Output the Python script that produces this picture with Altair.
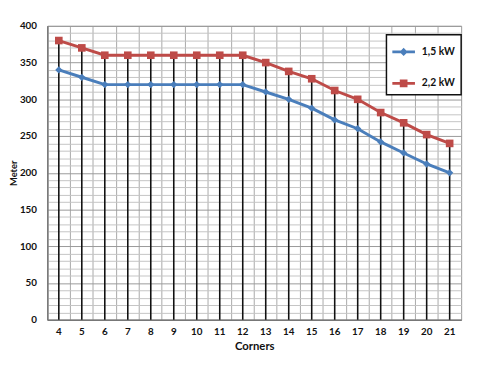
import altair as alt
import pandas as pd

corners = [str(c) for c in range(4, 22)]
kw15 = [340, 330, 320, 320, 320, 320, 320, 320, 320, 310, 300, 288, 272, 260, 242, 227, 212, 200]
kw22 = [380, 370, 360, 360, 360, 360, 360, 360, 360, 350, 338, 328, 312, 300, 282, 268, 252, 240]
series = ["1,5 kW", "2,2 kW"]
colors = ["#4A7EBB", "#BE4B48"]
shapes = ["diamond", "square"]
sizes = [55, 60]
yticks = list(range(0, 401, 10))

rows = []
for s, vals in zip(series, [kw15, kw22]):
    for c, v in zip(corners, vals):
        rows.append({"Corners": c, "Meter": v, "Series": s})
df = pd.DataFrame(rows)
drop = pd.DataFrame({"Corners": corners, "top": [max(a, b) for a, b in zip(kw15, kw22)], "zero": 0})

FONT = "Lato"

x = alt.X(
    "Corners:O", sort=corners,
    scale=alt.Scale(paddingInner=0, paddingOuter=0),
    axis=alt.Axis(title="Corners", labelAngle=0, bandPosition=0,
                  ticks=False, grid=True, gridColor="#a8a8a8", gridWidth=1,
                  labelPadding=7, titlePadding=4, titleFontSize=11.5,
                  domainColor="#777", domainWidth=1.5),
)
yscale = alt.Scale(domain=[0, 400], nice=False)
yaxis = alt.Axis(title="Meter", values=yticks, labelExpr="datum.value % 50 === 0 ? datum.label : ''",
                 ticks=False, grid=True,
                 gridColor={"expr": "datum.value % 50 === 0 ? '#999999' : '#c4c4c4'"},
                 labelPadding=11, titlePadding=1, titleFontSize=9.5,
                 domainColor="#777", domainWidth=1.5)

legend_shape = ("datum.value === '1,5 kW' ? "
                "'M-1,-0.13H1V0.13H-1Z M0,-0.36L0.36,0L0,0.36L-0.36,0Z' : "
                "'M-1,-0.13H1V0.13H-1Z M-0.34,-0.34H0.34V0.34H-0.34Z'")

legend = alt.Legend(title=None, orient="none", legendX=345, legendY=9,
                    symbolSize=529, rowPadding=15, labelOffset=7,
                    padding=6, strokeColor="#111", fillColor="white",
                    symbolStrokeWidth=0, symbolOpacity=1,
                    labelExpr="datum.label + '\u00a0\u00a0\u00a0\u00a0\u00a0\u00a0\u00a0'",
                    symbolType={"expr": legend_shape})

color = alt.Color("Series:N", scale=alt.Scale(domain=series, range=colors), legend=legend)

rules = alt.Chart(drop).mark_rule(color="#111", strokeWidth=1.6).encode(
    x=x, y=alt.Y("zero:Q", scale=yscale, axis=yaxis), y2="top:Q"
)

lines = alt.Chart(df).mark_line(strokeWidth=3).encode(
    x=x, y=alt.Y("Meter:Q", scale=yscale, axis=yaxis), color=color
)

point_layers = []
for s, shp, sz in zip(series, shapes, sizes):
    point_layers.append(
        alt.Chart(df).transform_filter(alt.datum.Series == s)
        .mark_point(filled=True, opacity=1, shape=shp, size=sz)
        .encode(x=x, y=alt.Y("Meter:Q", scale=yscale, axis=yaxis), color=color)
    )

chart = alt.layer(rules, lines, *point_layers).properties(
    width=421, height=299,
    autosize=alt.AutoSizeParams(type="none"),
    padding={"left": 40, "top": 15, "right": 9, "bottom": 50},
).configure_view(stroke="#999", strokeWidth=1).configure_axis(
    labelFont=FONT, titleFont=FONT, labelFontSize=10, titleFontSize=10.5,
    labelFontWeight="bold", titleFontWeight="bold", labelColor="#111", titleColor="#111",
).configure_legend(labelFont=FONT, labelFontSize=10.5, labelFontWeight="bold", labelColor="#111",
                   strokeWidth=1.5)

chart.save("out.html", embed_options={"renderer": "svg", "actions": False})
